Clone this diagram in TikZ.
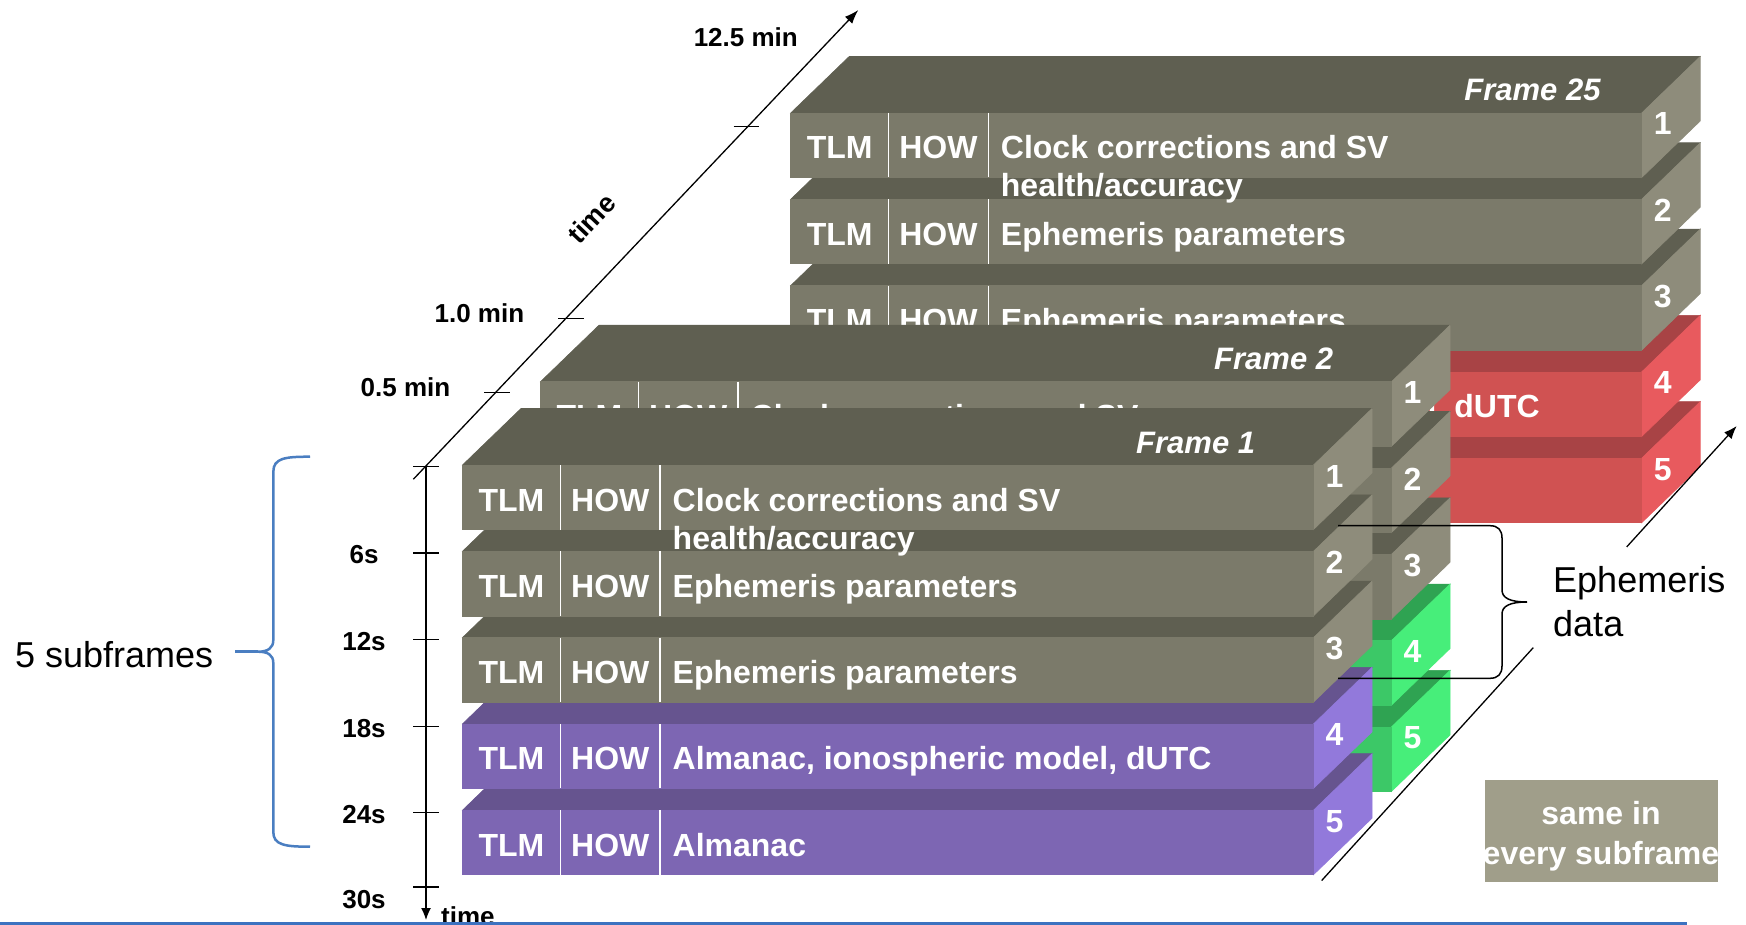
\documentclass[tikz,border=0pt]{standalone}
\usepackage{fontspec}
\setmainfont{Liberation Sans}
\usetikzlibrary{arrows.meta}

\definecolor{grayF}{HTML}{7B7A6A}
\definecolor{grayT}{HTML}{5F5F51}
\definecolor{grayS}{HTML}{8E8C7B}
\definecolor{purF}{HTML}{7D66B3}
\definecolor{purT}{HTML}{66548F}
\definecolor{purS}{HTML}{9279DB}
\definecolor{grnF}{HTML}{3CC867}
\definecolor{grnT}{HTML}{2FA352}
\definecolor{grnS}{HTML}{47EE7A}
\definecolor{redF}{HTML}{D05252}
\definecolor{redT}{HTML}{A84345}
\definecolor{redS}{HTML}{E85A5E}
\definecolor{boxgray}{HTML}{A09E8A}
\definecolor{braceblue}{HTML}{4A7EC1}
\definecolor{lineblue}{HTML}{3C72C0}

% one subframe row drawn as a box:
% #1 x0, #2 top y, #3 colour family, #4 number, #5 text, #6 name,
% #7 texts that can be seen: 0 none, 1 all, 2 main text only
\newcommand\subrow[7]{%
  \pgfmathsetmacro\sxA{#1}\pgfmathsetmacro\stA{#2}%
  \pgfmathsetmacro\sxB{#1+851}\pgfmathsetmacro\sxC{#1+851+58.5}%
  \pgfmathsetmacro\sxD{#1+58.5}\pgfmathsetmacro\stB{#2-56.5}%
  \pgfmathsetmacro\stC{#2+64.5}\pgfmathsetmacro\stD{#2+64.5-56.5}%
  \filldraw[fill=#3T,draw=#3T,line width=0.6pt] (\sxA,\stA) -- (\sxB,\stA) -- (\sxC,\stB) -- (\sxD,\stB) -- cycle;
  \filldraw[fill=#3S,draw=#3S,line width=0.6pt] (\sxB,\stA) -- (\sxC,\stB) -- (\sxC,\stD) -- (\sxB,\stC) -- cycle;
  \filldraw[fill=#3F,draw=#3F,line width=0.6pt] (\sxA,\stA) rectangle (\sxB,\stC);
  \draw[sep] (\sxA+98,\stA) -- (\sxA+98,\stC);
  \draw[sep] (\sxA+197.5,\stA) -- (\sxA+197.5,\stC);
  \ifnum#7=1
    \node[rowtxt] (#6tlm) at (\sxA+49,\stA+46) {TLM};
    \node[rowtxt] (#6how) at (\sxA+147.75,\stA+46) {HOW};
  \fi
  \ifnum#7>0
    \node[rowtxt,anchor=base west] (#6txt) at (\sxA+210,\stA+46) {#5};
  \fi
  \node[rowtxt] (#6num) at (\sxB+21,\stA+22) {#4};
}

% a frame of five subframes: #1 x0, #2 top y, #3 colour of rows 4-5, #4 label, #5 name,
% #6..#9 visibility of texts in rows 5,4,3,2 ; #10 second line of row 1 shown (1/0)
\newcommand\frameblock[9]{%
  \subrow{#1}{#2+4*86.3}{#3}{5}{Almanac}{#5r5}{#6}
  \subrow{#1}{#2+3*86.3}{#3}{4}{Almanac, ionospheric model, dUTC}{#5r4}{#7}
  \subrow{#1}{#2+2*86.3}{gray}{3}{Ephemeris parameters}{#5r3}{#8}
  \subrow{#1}{#2+86.3}{gray}{2}{Ephemeris parameters}{#5r2}{#9}
  \subrow{#1}{#2}{gray}{1}{Clock corrections and SV}{#5r1}{1}
  \node[framelbl] (#5lbl) at (#1+673.5,#2-12) {#4};
}

\begin{document}
\begin{tikzpicture}[x=1pt,y=-1pt,
  sep/.style={white,line width=1.3pt},
  rowtxt/.style={text=white,font=\fontsize{32}{38}\selectfont\bfseries,inner sep=0pt,anchor=base},
  framelbl/.style={text=white,font=\fontsize{31}{37}\selectfont\bfseries\itshape,inner sep=0pt,anchor=base west},
  axlbl/.style={font=\fontsize{26}{30}\selectfont\bfseries,inner sep=0pt},
  axline/.style={black,line width=1.3pt},
  note/.style={font=\fontsize{36}{42}\selectfont,inner sep=0pt,anchor=base west},
  boxtxt/.style={text=white,font=\fontsize{32}{38}\selectfont\bfseries,inner sep=0pt,anchor=base},
]
\fill[white] (0,0) rectangle (1746,925);
\useasboundingbox (0,0) rectangle (1746,925);

% vertical time axis
\coordinate (vtop) at (426,466.7);
\coordinate (vbot) at (426,920);
\draw[axline,-{Latex[length=12pt,width=10pt]}] (vtop) -- (vbot);
\foreach \y in {466.7,553,639.5,726.5,812.5,887}
  \draw[axline] (413,\y) -- (439,\y);
\node[axlbl] (l6)  at (364,555) {6s};
\node[axlbl] (l12) at (364,642) {12s};
\node[axlbl] (l18) at (364,729) {18s};
\node[axlbl] (l24) at (364,815) {24s};
\node[axlbl] (l30) at (364,900) {30s};
\node[axlbl,anchor=base west] (tbot) at (441,925) {time};

% diagonal time axis
\coordinate (dstart) at (413.3,479.3);
\coordinate (dend) at (858.3,10);
\draw[axline,-{Latex[length=14pt,width=10pt]}] (dstart) -- (dend);
\draw[axline] (484,392.5) -- (509.5,392.5);
\draw[axline] (558,318.5) -- (583.5,318.5);
\draw[axline] (733.5,126.7) -- (759,126.7);
\node[axlbl] (l05)  at (405.5,387) {0.5 min};
\node[axlbl] (l10)  at (479.4,313) {1.0 min};
\node[axlbl] (l125) at (745.8,37) {12.5 min};
\node[axlbl,rotate=46.5,font=\fontsize{27}{30}\selectfont\bfseries] (tdiag) at (591.6,218.3) {time};

% frames, back to front (texts hidden behind nearer frames are left out)
\frameblock{790.7}{113}{red}{Frame 25}{fz}{0}{2}{1}{1}
\node[rowtxt,anchor=base west] (fzr1b) at (790.7+210,113+84) {health/accuracy};
\frameblock{540.5}{381.7}{grn}{Frame 2}{fb}{0}{0}{0}{0}
\frameblock{462.5}{465}{pur}{Frame 1}{fa}{1}{1}{1}{1}
\node[rowtxt,anchor=base west] (far1b) at (462.5+210,465+84) {health/accuracy};

% 5 subframes brace
\draw[braceblue,line width=2.5pt]
  (310,456.7) .. controls (285,456.7) and (273.3,458) .. (273.3,472) -- (273.3,640)
  .. controls (273.3,648) and (268,651.7) .. (258,651.7)
  .. controls (268,651.7) and (273.3,655) .. (273.3,663) -- (273.3,832)
  .. controls (273.3,845) and (285,846.7) .. (310,846.7);
\coordinate (btip) at (258,651.7);
\coordinate (bstub) at (235,651.7);
\draw[braceblue,line width=2.5pt] (bstub) -- (btip);
\node[note] (five) at (15,667.7) {5 subframes};

% Ephemeris data brace
\draw[black,line width=1.5pt]
  (1338,525.7) -- (1490,525.7) .. controls (1498,525.7) and (1502,530) .. (1502,538) -- (1502,590)
  .. controls (1502,598) and (1510,602) .. (1527,602)
  .. controls (1510,602) and (1502,606) .. (1502,614) -- (1502,666)
  .. controls (1502,674) and (1498,678.3) .. (1490,678.3) -- (1338,678.3);
\node[note] (eph1) at (1553,592) {Ephemeris};
\node[note] (eph2) at (1553,636) {data};

% frame-axis diagonal at lower right
\coordinate (ra) at (1321.7,880.5);
\coordinate (rb) at (1533.3,647.6);
\coordinate (rc) at (1626.7,546.9);
\coordinate (rd) at (1736.7,426);
\draw[axline] (ra) -- (rb);
\draw[axline,-{Latex[length=13pt,width=10pt]}] (rc) -- (rd);

% legend box
\node[fill=boxgray,minimum width=233pt,minimum height=102.3pt,inner sep=0pt] (same) at (1601.5,831) {};
\node[boxtxt] (same1) at (1601,824.5) {same in};
\node[boxtxt] (same2) at (1601,864.5) {every subframe};

% bottom blue rule
\coordinate (bl1) at (0,923);
\coordinate (bl2) at (1687,923);
\draw[lineblue,line width=3pt] (bl1) -- (bl2);
\end{tikzpicture}
\end{document}
